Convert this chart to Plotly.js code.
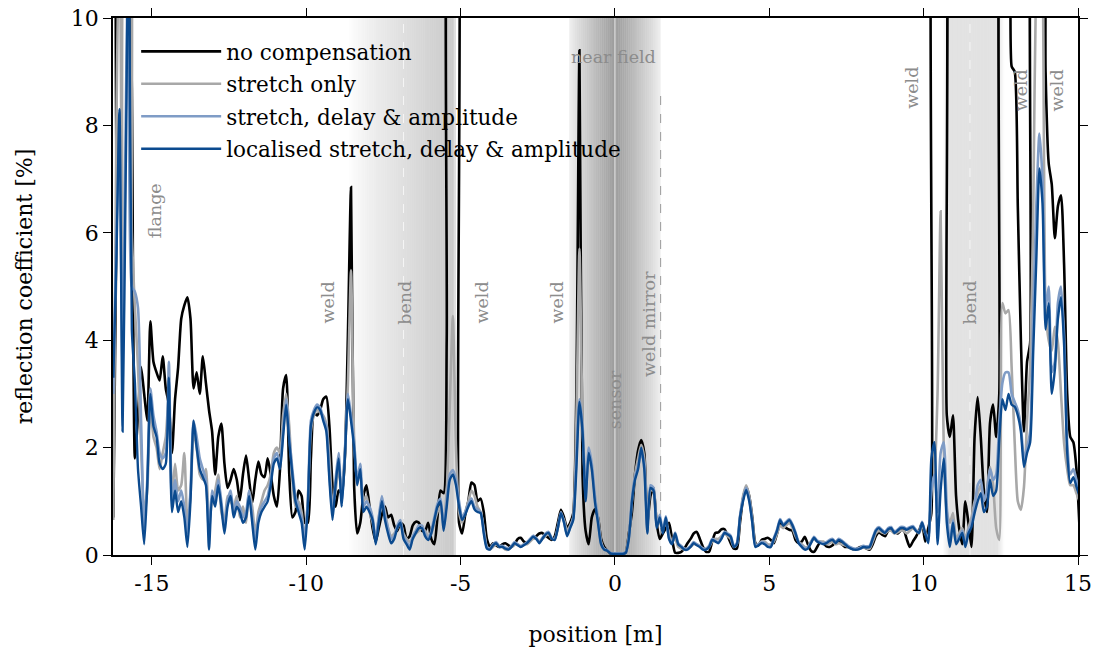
<!DOCTYPE html>
<html>
<head>
<meta charset="utf-8">
<script src="https://cdn.plot.ly/plotly-3.0.1.min.js"></script>
<style>html,body{margin:0;padding:0;background:#fff}#chart{width:1095px;height:648px}</style>
</head>
<body>
<div id="chart"></div>
<script>
// ---- data (sampled every 0.1 m starting at -16.25 m) ----
const X0 = -16.25, DX = 0.1;
const seriesNames = ['no compensation', 'stretch only', 'stretch, delay & amplitude', 'localised stretch, delay & amplitude'];

const noCompensation = [
 0.7, 6, 14, 14, 14, 12, 8.7, 1.8, 2.6, 3.5,
 3.0, 2.5, 4.35, 3.6, 3.4, 3.25, 3.7, 3.1, 2.8, 1.9,
 2.9, 3.5, 4.4, 4.65, 4.8, 4.4, 3.1, 3.4, 3.0, 3.7,
 3.2, 2.7, 2.3, 1.5, 2.2, 2.45, 1.7, 1.25, 1.4, 1.6,
 1.4, 1.02, 1.5, 1.85, 1.4, 0.97, 1.4, 1.74, 1.5, 1.45,
 1.8, 1.5, 1.1, 0.9, 1.6, 3.1, 3.35, 1.5, 0.7, 0.8,
 1.2, 1.1, 0.6, 0.6, 1.8, 2.65, 2.6, 2.7, 2.9, 2.95,
 2.4, 1.3, 0.9, 1.2, 1.15, 1.8, 4.1, 6.85, 1.3, 0.4,
 0.6, 1.1, 1.3, 0.9, 0.5, 0.25, 0.5, 0.75, 0.9, 0.7,
 0.75, 0.55, 0.45, 0.6, 0.55, 0.3, 0.35, 0.55, 0.62, 0.6,
 0.45, 0.45, 0.6, 0.3, 0.2, 0.7, 1.2, 1.15, 4, 14,
 14, 14, 0.6, 0.4, 0.75, 1.0, 1.35, 1.3, 1.0, 1.05,
 0.8, 0.3, 0.15, 0.22, 0.18, 0.15, 0.2, 0.22, 0.18, 0.15,
 0.2, 0.3, 0.32, 0.25, 0.22, 0.28, 0.32, 0.35, 0.4, 0.41,
 0.36, 0.32, 0.28, 0.35, 0.6, 0.84, 0.7, 0.5, 0.6, 0.78,
 3, 9.4, 1.5, 0.45, 0.2, 0.7, 0.85, 0.7, 0.3, 0.15,
 0.08, 0.03, 0.02, 0.02, 0.02, 0.02, 0.05, 0.4, 0.8, 1.5,
 1.95, 2.14, 1.9, 0.6, 1.1, 1.25, 0.6, 0.3, 0.4, 0.5,
 0.6, 0.3, 0.04, 0.04, 0.06, 0.12, 0.22, 0.3, 0.4, 0.43,
 0.3, 0.15, 0.06, 0.06, 0.25, 0.41, 0.42, 0.48, 0.48, 0.36,
 0.22, 0.12, 0.12, 0.6, 1.05, 1.27, 1.1, 0.7, 0.22, 0.18,
 0.28, 0.3, 0.32, 0.28, 0.22, 0.4, 0.58, 0.55, 0.5, 0.47,
 0.45, 0.28, 0.22, 0.25, 0.34, 0.2, 0.08, 0.06, 0.15, 0.24,
 0.22, 0.16, 0.15, 0.18, 0.25, 0.26, 0.2, 0.15, 0.15, 0.12,
 0.1, 0.12, 0.15, 0.15, 0.12, 0.1, 0.2, 0.35, 0.42, 0.38,
 0.35, 0.45, 0.47, 0.44, 0.4, 0.45, 0.47, 0.3, 0.15, 0.25,
 0.34, 0.45, 0.6, 0.25, 0.5, 0.78, 14, 14, 14, 14,
 2.6, 2.2, 2.6, 1.1, 0.5, 0.2, 1.0, 0.6, 0.15, 2.2,
 2.94, 2.2, 1.2, 0.8, 2.46, 2.8, 2.2, 3.0, 14, 14,
 14, 9.1, 9.0, 6.5, 4.0, 2.3, 3.6, 3.95, 14, 14,
 14, 14, 9, 7.3, 6.9, 5.9, 6.5, 6.7, 5.4, 3.0,
 2.2, 2.1, 1.6, 0.5
];

const stretchOnly = [
 0.65, 8, 12, 5, 12, 12, 6, 4.6, 3.5, 2.0,
 0.8, 1.2, 2.8, 2.2, 2.0, 1.6, 1.9, 2.2, 3.0, 1.1,
 1.7, 1.2, 1.3, 1.9, 0.6, 1.1, 2.3, 2.0, 1.5, 1.4,
 1.6, 0.6, 1.0, 1.2, 1.5, 0.8, 0.6, 1.1, 1.0, 0.9,
 1.1, 0.7, 0.9, 0.6, 1.2, 0.9, 0.4, 0.8, 1.0, 1.2,
 1.3, 1.5, 1.9, 2.0, 1.9, 2.6, 3.0, 2.4, 1.4, 0.9,
 1.0, 0.8, 0.3, 1.0, 2.3, 2.6, 2.7, 2.65, 2.6, 2.45,
 1.8, 0.9, 1.2, 1.6, 1.2, 1.9, 3.2, 5.3, 2.2, 1.4,
 1.5, 1.0, 1.1, 0.8, 0.6, 0.3, 0.7, 1.0, 0.8, 0.5,
 0.35, 0.4, 0.5, 0.6, 0.4, 0.3, 0.25, 0.3, 0.4, 0.45,
 0.5, 0.45, 0.35, 0.4, 0.6, 0.8, 0.9, 0.6, 1.2, 2.8,
 4.45, 2.0, 0.8, 0.6, 0.8, 1.0, 1.2, 1.1, 0.9, 0.8,
 0.5, 0.15, 0.1, 0.15, 0.2, 0.15, 0.15, 0.1, 0.1, 0.15,
 0.2, 0.2, 0.15, 0.2, 0.2, 0.25, 0.3, 0.3, 0.25, 0.3,
 0.35, 0.4, 0.3, 0.3, 0.5, 0.75, 0.65, 0.45, 0.55, 0.7,
 2.5, 5.7, 2.5, 1.2, 1.8, 1.6, 1.1, 0.7, 0.25, 0.1,
 0.08, 0.04, 0.03, 0.03, 0.03, 0.03, 0.05, 0.35, 1.0, 1.5,
 1.8, 2.05, 1.8, 0.5, 1.2, 1.2, 0.6, 0.6, 0.5, 0.6,
 0.4, 0.25, 0.3, 0.15, 0.12, 0.1, 0.12, 0.15, 0.2, 0.2,
 0.15, 0.12, 0.1, 0.15, 0.25, 0.3, 0.3, 0.35, 0.4, 0.35,
 0.3, 0.15, 0.2, 0.7, 1.1, 1.3, 1.1, 0.65, 0.2, 0.2,
 0.25, 0.25, 0.2, 0.2, 0.25, 0.4, 0.55, 0.5, 0.55, 0.6,
 0.5, 0.35, 0.25, 0.2, 0.15, 0.15, 0.25, 0.3, 0.25, 0.25,
 0.25, 0.2, 0.22, 0.25, 0.2, 0.22, 0.2, 0.18, 0.15, 0.12,
 0.1, 0.1, 0.12, 0.14, 0.12, 0.12, 0.25, 0.4, 0.45, 0.42,
 0.4, 0.45, 0.45, 0.4, 0.42, 0.45, 0.45, 0.4, 0.45, 0.5,
 0.45, 0.4, 0.55, 0.4, 0.3, 1.2, 1.5, 3.0, 6.4, 2.0,
 0.8, 0.6, 0.78, 0.3, 0.4, 0.5, 0.3, 0.5, 0.7, 1.0,
 1.15, 1.3, 1.0, 1.2, 1.64, 1.3, 0.5, 0.28, 4.69, 4.5,
 4.56, 3.5, 2.08, 1.0, 0.84, 1.27, 2.5, 3.5, 6.4, 11,
 12, 11, 4.6, 4.0, 3.8, 4.25, 3.95, 3.0, 2.08, 1.6,
 1.3, 1.3, 1.15, 1.0
];

const stretchDelayAmplitude = [
 3.0, 6.0, 7.5, 3.5, 8.0, 12, 5.0, 4.9, 4.6, 2.5,
 0.5, 1.4, 3.1, 2.6, 2.3, 1.9, 1.8, 1.9, 3.6, 1.0,
 1.4, 1.0, 1.2, 0.9, 0.4, 1.2, 2.5, 2.2, 1.8, 1.6,
 1.4, 0.4, 1.2, 1.0, 1.4, 1.0, 0.5, 1.0, 1.2, 0.8,
 1.0, 0.9, 0.7, 0.8, 1.2, 0.7, 0.3, 0.7, 0.9, 1.0,
 1.1, 1.4, 1.8, 1.9, 1.7, 2.3, 2.9, 2.2, 1.6, 1.1,
 0.9, 0.7, 0.3, 1.0, 2.5, 2.7, 2.8, 2.75, 2.55, 2.4,
 1.5, 0.8, 1.4, 1.9, 1.0, 1.9, 3.0, 2.6, 2.1, 1.4,
 1.7, 0.9, 1.0, 0.9, 0.7, 0.3, 0.7, 1.1, 0.75, 0.5,
 0.3, 0.35, 0.55, 0.65, 0.35, 0.25, 0.15, 0.35, 0.45, 0.55,
 0.55, 0.4, 0.3, 0.45, 0.7, 0.95, 1.05, 0.5, 1.0, 1.5,
 1.58, 1.4, 1.0, 0.7, 0.8, 0.95, 1.05, 0.9, 0.85, 0.8,
 0.45, 0.15, 0.12, 0.2, 0.24, 0.17, 0.17, 0.14, 0.12, 0.17,
 0.24, 0.2, 0.17, 0.2, 0.24, 0.3, 0.36, 0.32, 0.24, 0.32,
 0.4, 0.43, 0.32, 0.3, 0.52, 0.8, 0.62, 0.38, 0.52, 0.7,
 1.8, 2.9, 2.4, 1.1, 2.0, 1.7, 1.1, 0.65, 0.22, 0.12,
 0.09, 0.04, 0.03, 0.03, 0.03, 0.03, 0.05, 0.32, 1.05, 1.45,
 1.65, 1.9, 1.7, 0.45, 1.3, 1.25, 0.55, 0.75, 0.45, 0.72,
 0.32, 0.22, 0.42, 0.22, 0.17, 0.12, 0.12, 0.17, 0.24, 0.2,
 0.17, 0.12, 0.12, 0.17, 0.3, 0.27, 0.24, 0.32, 0.43, 0.4,
 0.36, 0.17, 0.22, 0.72, 1.05, 1.25, 1.05, 0.62, 0.17, 0.2,
 0.24, 0.22, 0.17, 0.17, 0.32, 0.47, 0.67, 0.57, 0.62, 0.67,
 0.57, 0.42, 0.24, 0.17, 0.12, 0.14, 0.24, 0.34, 0.27, 0.24,
 0.22, 0.24, 0.28, 0.3, 0.24, 0.3, 0.27, 0.22, 0.17, 0.14,
 0.12, 0.12, 0.14, 0.17, 0.16, 0.17, 0.32, 0.47, 0.52, 0.47,
 0.43, 0.5, 0.52, 0.43, 0.47, 0.52, 0.52, 0.49, 0.52, 0.54,
 0.47, 0.43, 0.62, 0.42, 0.3, 1.2, 1.5, 0.8, 1.9, 2.1,
 0.9, 0.2, 0.65, 0.25, 0.35, 0.45, 0.2, 0.45, 0.6, 0.9,
 1.3, 1.4, 1.0, 1.2, 1.6, 1.4, 1.5, 2.5, 3.2, 3.4,
 3.4, 3.0, 2.85, 2.7, 2.4, 1.8, 2.0, 2.3, 4.5, 6.5,
 7.85, 7.0, 4.6, 5.0, 3.4, 3.6, 4.7, 5.0, 4.1, 2.1,
 1.5, 1.6, 1.4, 1.2
];

const localised = [
 3.3, 5.5, 8.3, 2.3, 7.0, 12, 4.2, 3.2, 1.6, 0.9,
 0.2, 1.3, 3.0, 2.4, 2.2, 1.7, 1.6, 1.7, 3.3, 0.8,
 1.2, 0.8, 1.0, 0.7, 0.15, 1.0, 2.5, 2.0, 1.6, 1.45,
 1.3, 0.1, 1.1, 0.9, 1.3, 0.9, 0.4, 0.9, 1.1, 0.7,
 0.9, 0.8, 0.6, 0.7, 1.1, 0.6, 0.1, 0.6, 0.8, 0.9,
 1.0, 1.3, 1.7, 1.8, 1.6, 2.2, 2.8, 2.1, 1.5, 1.0,
 0.8, 0.6, 0.1, 0.9, 2.4, 2.65, 2.75, 2.7, 2.5, 2.3,
 1.4, 0.65, 1.3, 1.8, 0.9, 1.8, 2.9, 2.5, 2.0, 1.3,
 1.6, 0.8, 0.9, 0.8, 0.65, 0.2, 0.6, 1.0, 0.65, 0.4,
 0.22, 0.3, 0.5, 0.6, 0.3, 0.2, 0.1, 0.3, 0.41, 0.5,
 0.5, 0.35, 0.28, 0.4, 0.65, 0.9, 1.0, 0.45, 0.9, 1.4,
 1.5, 1.3, 0.9, 0.65, 0.75, 0.9, 1.0, 0.85, 0.8, 0.78,
 0.4, 0.12, 0.1, 0.18, 0.22, 0.15, 0.15, 0.12, 0.1, 0.15,
 0.22, 0.18, 0.15, 0.18, 0.22, 0.28, 0.34, 0.3, 0.22, 0.3,
 0.38, 0.41, 0.3, 0.28, 0.5, 0.78, 0.6, 0.35, 0.5, 0.65,
 1.6, 2.85, 2.3, 1.0, 1.9, 1.6, 1.0, 0.6, 0.2, 0.1,
 0.08, 0.03, 0.02, 0.02, 0.02, 0.02, 0.04, 0.3, 1.0, 1.4,
 1.6, 2.0, 1.6, 0.4, 1.25, 1.2, 0.5, 0.7, 0.4, 0.7,
 0.3, 0.2, 0.4, 0.2, 0.15, 0.1, 0.1, 0.15, 0.22, 0.18,
 0.15, 0.1, 0.1, 0.15, 0.28, 0.25, 0.22, 0.3, 0.41, 0.38,
 0.34, 0.15, 0.2, 0.7, 1.0, 1.21, 1.0, 0.6, 0.15, 0.18,
 0.22, 0.2, 0.15, 0.15, 0.3, 0.45, 0.65, 0.55, 0.6, 0.65,
 0.55, 0.4, 0.22, 0.15, 0.1, 0.12, 0.22, 0.32, 0.25, 0.22,
 0.2, 0.22, 0.26, 0.28, 0.22, 0.28, 0.25, 0.2, 0.15, 0.12,
 0.1, 0.1, 0.12, 0.15, 0.14, 0.15, 0.3, 0.45, 0.5, 0.45,
 0.41, 0.48, 0.5, 0.41, 0.45, 0.5, 0.5, 0.47, 0.5, 0.52,
 0.45, 0.41, 0.6, 0.4, 0.22, 1.8, 2.1, 0.2, 1.2, 1.8,
 0.6, 0.15, 0.6, 0.2, 0.3, 0.41, 0.15, 0.4, 0.52, 0.78,
 1.0, 1.15, 0.8, 0.9, 1.4, 1.1, 1.2, 2.14, 2.9, 2.7,
 3.0, 2.8, 2.76, 2.6, 2.3, 1.64, 1.9, 2.1, 3.8, 5.5,
 7.2, 6.55, 4.2, 4.69, 3.0, 3.45, 4.4, 4.8, 3.9, 1.9,
 1.34, 1.45, 1.27, 1.1
];

// annotated features along the pipe
const featureText = ['flange', 'weld', 'bend', 'weld', 'weld', 'sensor', 'weld mirror', 'weld', 'bend', 'weld', 'weld'];
const featureX    = [-14.9, -9.3, -6.83, -4.31, -1.88, 0, 1.1, 9.62, 11.5, 13.18, 14.32];
const featureY    = [6.42, 4.7, 4.7, 4.7, 4.7, 2.9, 4.3, 8.7, 4.7, 8.65, 8.65];

// shaded regions (m)
const bandStart = [-8.62, -1.48, 10.62];
const bandEnd   = [-5.15, 1.48, 12.62];

const xTicks = [-15, -10, -5, 0, 5, 10, 15];
const yTicks = [0, 2, 4, 6, 8, 10];

// ---- styling ----
const colors = ['#000000', '#a8a8a8', '#7f9cc6', '#0b4a8f'];
const widths = [2.6, 2.6, 2.6, 2.4];
const allSeries = [noCompensation, stretchOnly, stretchDelayAmplitude, localised];
const FONT = 'DejaVu Serif, Liberation Serif, serif';

const traces = allSeries.map((ys, i) => ({
  type: 'scatter', mode: 'lines',
  x0: X0, dx: DX, y: ys,
  name: seriesNames[i],
  legendgroup: 'g' + i,
  line: {color: colors[i], width: widths[i], shape: 'spline', smoothing: 0.6},
  hoverinfo: 'x+y+name'
}));

// gradient bands built from thin strips
const profiles = [
  t => 0.21 * Math.pow(t, 0.75) * (t > 0.97 ? 0.6 : 1),
  t => { const d = Math.abs(2 * t - 1); return 0.06 + 0.33 * Math.pow(1 - d, 0.9); },
  t => { const e = Math.min(t, 1 - t); return 0.115 * Math.min(1, e / 0.12); }
];
const shapes = [];
bandStart.forEach((a, k) => {
  const b = bandEnd[k], n = 48;
  for (let j = 0; j < n; j++) {
    const t = (j + 0.5) / n;
    shapes.push({type: 'rect', layer: 'below', xref: 'x', yref: 'paper',
      x0: a + (b - a) * j / n, x1: a + (b - a) * (j + 1) / n, y0: 0, y1: 1,
      line: {width: 0}, fillcolor: 'rgba(0,0,0,' + profiles[k](t).toFixed(3) + ')'});
  }
});
// marker lines
shapes.push({type: 'line', layer: 'below', xref: 'x', yref: 'paper', x0: 0, x1: 0, y0: 0, y1: 1, line: {color: 'rgba(255,255,255,0.8)', width: 1}});
shapes.push({type: 'line', layer: 'below', xref: 'x', yref: 'paper', x0: 1.48, x1: 1.48, y0: 0, y1: 0.86, line: {color: '#9a9a9a', width: 1, dash: 'dash'}});
shapes.push({type: 'line', layer: 'below', xref: 'x', yref: 'paper', x0: -6.85, x1: -6.85, y0: 0, y1: 1, line: {color: 'rgba(255,255,255,0.7)', width: 1, dash: 'dash'}});
shapes.push({type: 'line', layer: 'below', xref: 'x', yref: 'paper', x0: 11.5, x1: 11.5, y0: 0, y1: 1, line: {color: 'rgba(255,255,255,0.7)', width: 1, dash: 'dash'}});

const annotations = featureText.map((t, i) => ({
  x: featureX[i], y: featureY[i], xref: 'x', yref: 'y', text: t, showarrow: false,
  textangle: -90, font: {family: FONT, size: 17.5, color: '#8c8c8c'}
}));
annotations.push({x: -0.05, y: 9.27, xref: 'x', yref: 'y', text: 'near field', showarrow: false,
  font: {family: FONT, size: 17.5, color: '#8c8c8c'}});

const layout = {
  width: 1095, height: 648,
  margin: {l: 113, r: 17, t: 18, b: 93},
  paper_bgcolor: '#ffffff', plot_bgcolor: '#ffffff',
  font: {family: FONT, size: 21, color: '#000'},
  showlegend: true,
  legend: {x: 0.024, y: 0.976, xanchor: 'left', yanchor: 'top', bgcolor: 'rgba(0,0,0,0)',
    borderwidth: 0, font: {family: FONT, size: 21.5}, tracegroupgap: 1.5, itemwidth: 80,
    traceorder: 'grouped'},
  xaxis: {range: [-16.26, 15], tickvals: xTicks, ticktext: xTicks.map(String),
    ticks: 'outside', ticklen: 8, tickwidth: 1.3, tickcolor: '#000',
    showline: true, linecolor: '#000', linewidth: 1.5, mirror: 'ticks',
    showgrid: false, zeroline: false,
    tickfont: {family: FONT, size: 22},
    title: {text: 'position [m]', font: {family: FONT, size: 22}, standoff: 31}},
  yaxis: {range: [0, 10], tickvals: yTicks, ticktext: yTicks.map(String),
    ticks: 'outside', ticklen: 8, tickwidth: 1.3, tickcolor: '#000',
    showline: true, linecolor: '#000', linewidth: 1.5, mirror: 'ticks',
    showgrid: false, zeroline: false,
    tickfont: {family: FONT, size: 22},
    title: {text: 'reflection coefficient [%]', font: {family: FONT, size: 22}, standoff: 32}},
  shapes: shapes,
  annotations: annotations
};

Plotly.newPlot('chart', traces, layout, {displayModeBar: false});
</script>
</body>
</html>
